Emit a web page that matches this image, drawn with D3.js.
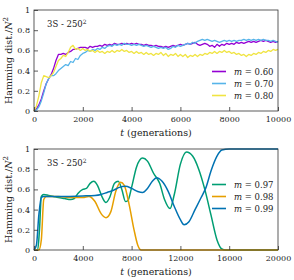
<!DOCTYPE html>
<html>
<head>
<meta charset="utf-8">
<script src="https://cdn.jsdelivr.net/npm/d3@7"></script>
<style>
  body { margin: 0; background: #fff; }
  svg text { font-family: "DejaVu Serif", serif; fill: #222; }
</style>
</head>
<body>
<script>
const width = 294,
  height = 280;

// top panel: t every 100 generations
const tTop = d3.range(0, 10001, 100);
const m060 = [
  0, 0.02, 0.06, 0.12, 0.20, 0.27, 0.32, 0.36, 0.42, 0.50, 0.56,
  0.56, 0.57, 0.56, 0.58, 0.59, 0.61, 0.61, 0.62, 0.63, 0.63,
  0.63, 0.62, 0.64, 0.63, 0.64, 0.64, 0.65, 0.64, 0.66, 0.65,
  0.66, 0.65, 0.67, 0.66, 0.66, 0.67, 0.66, 0.67, 0.66, 0.67,
  0.66, 0.67, 0.66, 0.66, 0.65, 0.66, 0.65, 0.65, 0.64, 0.65,
  0.64, 0.64, 0.63, 0.64, 0.63, 0.64, 0.65, 0.64, 0.65, 0.66,
  0.65, 0.66, 0.67, 0.66, 0.67, 0.68, 0.66, 0.65, 0.66, 0.67,
  0.66, 0.64, 0.65, 0.63, 0.66, 0.64, 0.66, 0.65, 0.67, 0.66,
  0.67, 0.66, 0.68, 0.67, 0.68, 0.67, 0.68, 0.69, 0.68, 0.69,
  0.68, 0.69, 0.70, 0.69, 0.70, 0.69, 0.68, 0.69, 0.68, 0.69
];
const m070 = [
  0, 0.01, 0.04, 0.10, 0.18, 0.27, 0.32, 0.35, 0.35, 0.37, 0.40,
  0.42, 0.44, 0.46, 0.45, 0.49, 0.48, 0.52, 0.51, 0.55, 0.57,
  0.58, 0.60, 0.59, 0.61, 0.60, 0.62, 0.61, 0.63, 0.62, 0.64,
  0.65, 0.64, 0.66, 0.65, 0.66, 0.65, 0.67, 0.66, 0.66, 0.65,
  0.66, 0.65, 0.66, 0.65, 0.64, 0.65, 0.64, 0.63, 0.64, 0.63,
  0.62, 0.63, 0.62, 0.63, 0.61, 0.62, 0.64, 0.63, 0.65, 0.64,
  0.65, 0.66, 0.67, 0.66, 0.68, 0.67, 0.69, 0.70, 0.71, 0.70,
  0.71, 0.70, 0.69, 0.70, 0.69, 0.68, 0.69, 0.70, 0.69, 0.70,
  0.69, 0.70, 0.69, 0.70, 0.70, 0.71, 0.70, 0.71, 0.70, 0.71,
  0.70, 0.71, 0.70, 0.71, 0.70, 0.70, 0.69, 0.70, 0.69, 0.68
];
const m080 = [
  0, 0.05, 0.15, 0.28, 0.35, 0.34, 0.33, 0.35, 0.38, 0.44, 0.50,
  0.52, 0.55, 0.54, 0.58, 0.63, 0.65, 0.61, 0.62, 0.60, 0.62,
  0.60, 0.61, 0.59, 0.60, 0.58, 0.60, 0.58, 0.59, 0.57, 0.59,
  0.58, 0.60, 0.58, 0.60, 0.59, 0.61, 0.59, 0.60, 0.58, 0.59,
  0.57, 0.59, 0.57, 0.58, 0.56, 0.58, 0.56, 0.57, 0.55, 0.57,
  0.56, 0.58, 0.55, 0.57, 0.54, 0.56, 0.55, 0.57, 0.54, 0.56,
  0.54, 0.56, 0.53, 0.55, 0.54, 0.56, 0.54, 0.56, 0.55, 0.57,
  0.56, 0.58, 0.57, 0.59, 0.57, 0.59, 0.58, 0.60, 0.58, 0.59,
  0.57, 0.58, 0.56, 0.57, 0.55, 0.56, 0.54, 0.56, 0.55, 0.57,
  0.56, 0.58, 0.57, 0.59, 0.58, 0.60, 0.59, 0.61, 0.60, 0.61
];

// bottom panel: smooth curves, [t, value]
const m097 = [
  [0, 0], [300, 0], [450, 0.2], [600, 0.53], [800, 0.55], [1200, 0.54], [1600, 0.53],
  [2000, 0.52], [2500, 0.51], [3000, 0.5], [3300, 0.51], [3600, 0.56], [4000, 0.6],
  [4300, 0.61], [4600, 0.66], [4900, 0.68], [5200, 0.64], [5600, 0.52], [5900, 0.47],
  [6200, 0.52], [6600, 0.66], [6900, 0.68], [7200, 0.6], [7500, 0.48], [7700, 0.49],
  [8000, 0.62], [8400, 0.82], [8900, 0.91], [9300, 0.88], [9800, 0.76], [10300, 0.66],
  [10700, 0.5], [11150, 0.41], [11500, 0.55], [12000, 0.85], [12500, 0.97], [13000, 0.93],
  [13500, 0.8], [14000, 0.6], [14500, 0.35], [15000, 0.1], [15400, 0.01], [15700, 0],
  [20000, 0]
];
const m098 = [
  [0, 0], [400, 0], [600, 0.1], [800, 0.5], [1000, 0.53], [2000, 0.53], [3000, 0.52],
  [4000, 0.52], [4500, 0.53], [5000, 0.48], [5500, 0.36], [5900, 0.32], [6300, 0.38],
  [6700, 0.58], [7100, 0.67], [7400, 0.64], [7800, 0.45], [8200, 0.2], [8500, 0.05],
  [8800, 0], [20000, 0]
];
const m099 = [
  [0, 0], [200, 0.05], [400, 0.35], [600, 0.52], [800, 0.53], [2000, 0.53], [4000, 0.535],
  [5000, 0.54], [5500, 0.55], [6000, 0.57], [6500, 0.59], [7000, 0.62], [7500, 0.63],
  [8000, 0.61], [8500, 0.58], [8900, 0.57], [9300, 0.61], [9700, 0.68], [10050, 0.715],
  [10500, 0.68], [11000, 0.58], [11500, 0.43], [12000, 0.3], [12300, 0.25], [12700, 0.28],
  [13200, 0.4], [13700, 0.52], [14100, 0.62], [14500, 0.78], [15000, 0.93], [15400, 0.99],
  [16000, 1], [20000, 1]
];

const yTicks = [0, 0.2, 0.4, 0.6, 0.8, 1];
const xTicksTop = [0, 2000, 4000, 6000, 8000, 10000];
const xTicksBottom = [0, 4000, 8000, 12000, 16000, 20000];

const tickFont = 8,
  labelFont = 9.5;

const svg = d3.select("body")
  .append("svg")
  .attr("width", width)
  .attr("height", height);

function panel(cfg) {
  const x = d3.scaleLinear().domain([0, cfg.xMax]).range([34, 278]);
  const y = d3.scaleLinear().domain([0, 1]).range([cfg.bottom, cfg.top]);
  const g = svg.append("g");

  const line = d3.line()
    .x(d => x(d[0]))
    .y(d => y(d[1]))
    .curve(cfg.curve);

  cfg.series.forEach(s => {
    g.append("path")
      .attr("d", line(s.data))
      .attr("fill", "none")
      .attr("stroke", s.color)
      .attr("stroke-width", cfg.lw)
      .attr("stroke-linejoin", "round");
  });

  // frame
  g.append("rect")
    .attr("x", 34).attr("y", cfg.top)
    .attr("width", 244).attr("height", cfg.bottom - cfg.top)
    .attr("fill", "none").attr("stroke", "#333").attr("stroke-width", 0.8);

  const yAxis = g.append("g")
    .attr("transform", "translate(34,0)")
    .call(d3.axisLeft(y).tickValues(yTicks).tickFormat(d => String(d)).tickSize(-4).tickPadding(4));
  const xAxis = g.append("g")
    .attr("transform", `translate(0,${cfg.bottom})`)
    .call(d3.axisBottom(x).tickValues(cfg.xTicks).tickFormat(d => String(d)).tickSize(-4).tickPadding(5));
  [yAxis, xAxis].forEach(a => {
    a.attr("font-family", null).attr("font-size", null);
    a.select(".domain").remove();
    a.selectAll("line").attr("stroke", "#333").attr("stroke-width", 0.8);
    a.selectAll("text").attr("font-size", tickFont).attr("fill", "#222");
  });

  // axis labels
  const xl = g.append("text")
    .attr("x", 156).attr("y", cfg.bottom + 25)
    .attr("text-anchor", "middle").attr("font-size", labelFont);
  xl.append("tspan").attr("font-style", "italic").text("t");
  xl.append("tspan").text(" (generations)");

  const yl = g.append("text")
    .attr("transform", `translate(12,${(cfg.top + cfg.bottom) / 2}) rotate(-90)`)
    .attr("text-anchor", "middle").attr("font-size", labelFont);
  yl.append("tspan").text("Hamming dist./");
  yl.append("tspan").attr("font-style", "italic").text("N");
  yl.append("tspan").attr("font-size", 7).attr("dy", -4).text("2");

  const lab = g.append("text")
    .attr("x", 47).attr("y", cfg.top + 17).attr("font-size", 8.5);
  lab.append("tspan").text("3S - 250");
  lab.append("tspan").attr("font-size", 6).attr("dy", -3.5).text("2");

  // legend
  cfg.series.forEach((s, i) => {
    const ly = cfg.legendY + i * 12;
    g.append("line")
      .attr("x1", 212).attr("x2", 226).attr("y1", ly).attr("y2", ly)
      .attr("stroke", s.color).attr("stroke-width", 1.6);
    const t = g.append("text")
      .attr("x", 234).attr("y", ly + 3).attr("font-size", 8.5);
    t.append("tspan").attr("font-style", "italic").text("m");
    t.append("tspan").text(" = " + s.label);
  });
}

panel({
  xMax: 10000, top: 10, bottom: 111, xTicks: xTicksTop, lw: 1.3,
  curve: d3.curveLinear, legendY: 71.5,
  series: [
    { label: "0.60", color: "#9400d3", data: tTop.map((t, i) => [t, m060[i]]) },
    { label: "0.70", color: "#56b4e9", data: tTop.map((t, i) => [t, m070[i]]) },
    { label: "0.80", color: "#f0e442", data: tTop.map((t, i) => [t, m080[i]]) }
  ]
});

panel({
  xMax: 20000, top: 149, bottom: 250, xTicks: xTicksBottom, lw: 1.5,
  curve: d3.curveMonotoneX, legendY: 184.5,
  series: [
    { label: "0.97", color: "#009e73", data: m097 },
    { label: "0.98", color: "#e69f00", data: m098 },
    { label: "0.99", color: "#0072b2", data: m099 }
  ]
});
</script>
</body>
</html>
